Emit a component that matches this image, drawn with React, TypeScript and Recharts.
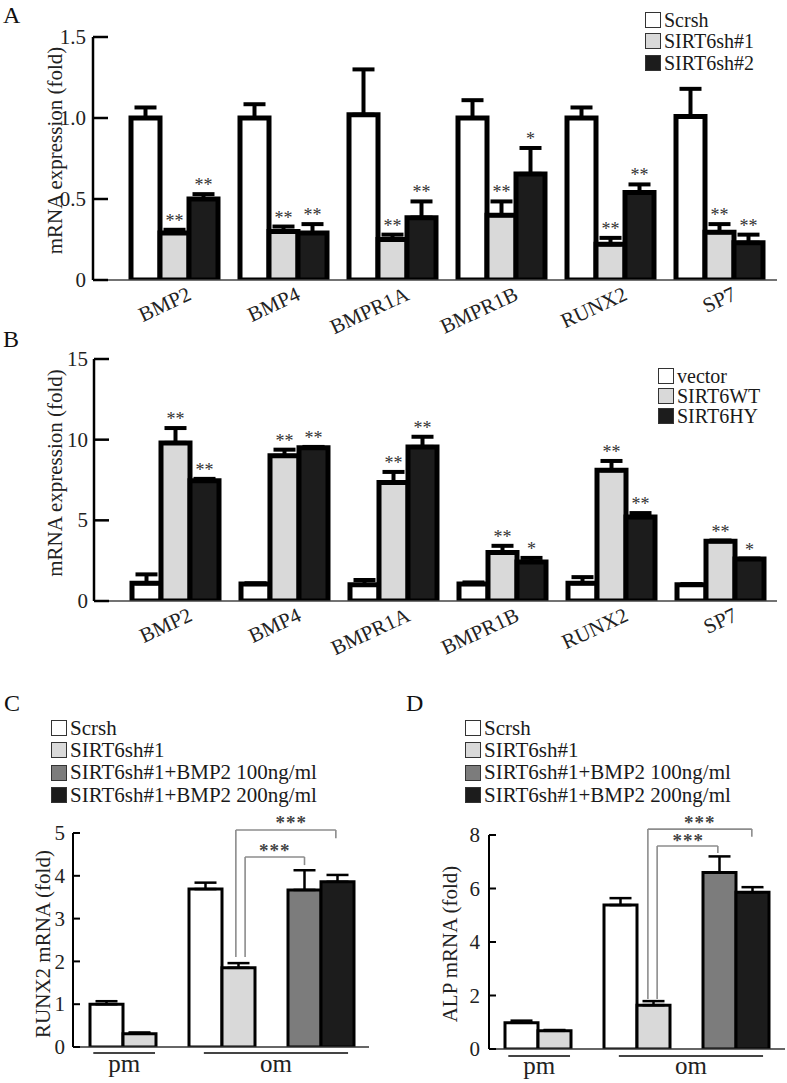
import React from 'react';
import { BarChart, Bar, XAxis, YAxis, ErrorBar, LabelList, Legend, ReferenceLine, ReferenceDot, Cell } from 'recharts';

const FONT = "'Liberation Serif', 'Times New Roman', serif";

// ---------- Panels A & B ----------
const genes = ['BMP2', 'BMP4', 'BMPR1A', 'BMPR1B', 'RUNX2', 'SP7'];

const seriesA = ['Scrsh', 'SIRT6sh#1', 'SIRT6sh#2'];
const aScrsh = [1.0, 1.0, 1.02, 1.0, 1.0, 1.01];
const aScrshErr = [0.065, 0.085, 0.28, 0.11, 0.065, 0.17];
const aSh1 = [0.29, 0.3, 0.25, 0.4, 0.22, 0.295];
const aSh1Err = [0.02, 0.03, 0.03, 0.085, 0.04, 0.05];
const aSh2 = [0.5, 0.29, 0.385, 0.655, 0.54, 0.23];
const aSh2Err = [0.03, 0.055, 0.1, 0.16, 0.05, 0.05];
const aSig1 = ['**', '**', '**', '**', '**', '**'];
const aSig2 = ['**', '**', '**', '*', '**', '**'];
const aTicks = [0, 0.5, 1.0, 1.5];

const seriesB = ['vector', 'SIRT6WT', 'SIRT6HY'];
const bVector = [1.1, 1.05, 1.0, 1.05, 1.1, 1.0];
const bVectorErr = [0.55, 0.05, 0.3, 0.1, 0.38, 0.05];
const bWT = [9.8, 9.0, 7.35, 3.0, 8.1, 3.7];
const bWTErr = [0.92, 0.38, 0.65, 0.42, 0.58, 0.05];
const bHY = [7.45, 9.5, 9.55, 2.42, 5.2, 2.6];
const bHYErr = [0.12, 0.05, 0.63, 0.25, 0.25, 0.03];
const bSig1 = ['**', '**', '**', '**', '**', '**'];
const bSig2 = ['**', '**', '**', '*', '**', '*'];
const bTicks = [0, 5, 10, 15];

// ---------- Panels C & D ----------
const seriesCD = ['Scrsh', 'SIRT6sh#1', 'SIRT6sh#1+BMP2 100ng/ml', 'SIRT6sh#1+BMP2 200ng/ml'];
const slots = ['pm-Scrsh', 'pm-SIRT6sh#1', 'pm-gap', 'om-Scrsh', 'om-SIRT6sh#1', 'om-gap', 'om-BMP2-100', 'om-BMP2-200'];
const slotSeries = [0, 1, -1, 0, 1, -1, 2, 3];
const cRunx2 = [1.0, 0.31, null, 3.69, 1.85, null, 3.67, 3.86];
const cRunx2Err = [0.07, 0.03, null, 0.15, 0.11, null, 0.46, 0.16];
const dAlp = [0.98, 0.68, null, 5.38, 1.64, null, 6.6, 5.86];
const dAlpErr = [0.08, 0.03, null, 0.26, 0.15, null, 0.6, 0.19];
const groupLabels = ['pm', 'om'];
const groupSpans = [[0.1, 1.97], [3.45, 7.82]];
const cTicks = [0, 1, 2, 3, 4, 5];
const dTicks = [0, 2, 4, 6, 8];

type Bracket = { from: number; to: number; base: number; top: number; end: number; label: string; labelX: number; labelY: number };
const cBrackets: Bracket[] = [
  { from: 4.7, to: 6.5, base: 2.1, top: 4.44, end: 4.25, label: '***', labelX: 5.6, labelY: 4.65 },
  { from: 4.42, to: 7.45, base: 2.1, top: 5.07, end: 4.88, label: '***', labelX: 6.1, labelY: 5.3 },
];
const dBrackets: Bracket[] = [
  { from: 4.61, to: 6.45, base: 1.87, top: 7.59, end: 7.33, label: '***', labelX: 5.55, labelY: 7.89 },
  { from: 4.33, to: 7.48, base: 1.87, top: 8.22, end: 7.93, label: '***', labelX: 5.9, labelY: 8.56 },
];

// ---------- styles ----------
const colors3 = ['#ffffff', '#d9d9d9', '#1c1c1c'];
const colorsCD = ['#ffffff', '#d9d9d9', '#7c7c7c', '#1c1c1c'];

// ---------- tables ----------
const dataA = genes.map((g, i) => ({
  gene: g,
  s0: aScrsh[i], e0: [0, aScrshErr[i]],
  s1: aSh1[i], e1: [0, aSh1Err[i]],
  s2: aSh2[i], e2: [0, aSh2Err[i]],
}));
const dataB = genes.map((g, i) => ({
  gene: g,
  s0: bVector[i], e0: [0, bVectorErr[i]],
  s1: bWT[i], e1: [0, bWTErr[i]],
  s2: bHY[i], e2: [0, bHYErr[i]],
}));
const dataC = slots.map((s, i) => ({ slot: s, pos: i, v: cRunx2[i], e: cRunx2Err[i] == null ? null : [0, cRunx2Err[i]] }));
const dataD = slots.map((s, i) => ({ slot: s, pos: i, v: dAlp[i], e: dAlpErr[i] == null ? null : [0, dAlpErr[i]] }));
const groupCenters = groupSpans.map(([a, b]) => (a + b) / 2);

// ---------- helpers ----------
function GeneTick(props: any) {
  const { x, y, payload } = props;
  const px = x + 18;
  const py = y + 19;
  return (
    <text x={px} y={py} textAnchor="end" transform={`rotate(-25, ${px}, ${py})`} fontFamily={FONT} fontSize={21} fill="#222">
      {payload.value}
    </text>
  );
}

function YTick(props: any) {
  const { x, y, payload, fmt } = props;
  const label = fmt ? fmt(payload.value) : String(payload.value);
  return (
    <text x={x} y={y} dy="0.34em" textAnchor="end" fontFamily={FONT} fontSize={21} fill="#222">
      {label}
    </text>
  );
}

function GroupTick(props: any) {
  const { x, y, index } = props;
  return (
    <text x={x} y={y + 25} textAnchor="middle" fontFamily={FONT} fontSize={25} fill="#222">
      {groupLabels[index]}
    </text>
  );
}

function YTitle(props: any) {
  const { viewBox, text, cx, dy } = props;
  const vb = viewBox || { x: 0, y: 0, width: 0, height: 0 };
  const x = vb.x + cx;
  const y = vb.y + vb.height / 2 + dy;
  return (
    <text x={x} y={y} transform={`rotate(-90, ${x}, ${y})`} textAnchor="middle" dominantBaseline="central" fontFamily={FONT} fontSize={21} fill="#222">
      {text}
    </text>
  );
}

function makeSig(vals: number[], errs: number[], sigs: string[]) {
  return (props: any) => {
    const vb = props.viewBox || {};
    const x = Number(props.x ?? vb.x);
    const y = Number(props.y ?? vb.y);
    const w = Number(props.width ?? vb.width);
    const h = Number(props.height ?? vb.height);
    const i = props.index;
    const v = vals[i];
    const s = sigs[i];
    if (!s || !v || !isFinite(x) || !isFinite(y)) return null;
    const capY = y - errs[i] * (Math.abs(h) / v);
    return (
      <text x={x + w / 2} y={capY - 3} textAnchor="middle" fontFamily={FONT} fontSize={18} fill="#333">
        {s}
      </text>
    );
  };
}

function StarLabel(props: any) {
  const vb = props.viewBox || {};
  const x = Number(vb.x ?? props.x) + Number(vb.width ?? 0) / 2;
  const y = Number(vb.y ?? props.y) + Number(vb.height ?? 0) / 2;
  return (
    <text x={x} y={y + 9} textAnchor="middle" fontFamily={FONT} fontSize={19} fontWeight="bold" letterSpacing={1} fill="#444">
      {props.value}
    </text>
  );
}

function makeLegend(names: string[], colors: string[], rowH: number, fs: number) {
  return () => (
    <div style={{ fontFamily: FONT, fontSize: fs, color: '#1a1a1a' }}>
      {names.map((n, i) => (
        <div key={n} style={{ display: 'flex', alignItems: 'center', height: rowH, whiteSpace: 'nowrap', lineHeight: 1 }}>
          <span style={{ width: 16, height: 16, boxSizing: 'border-box', border: '1.5px solid #333', background: colors[i], marginRight: 3, flex: '0 0 auto' }} />
          <span>{n}</span>
        </div>
      ))}
    </div>
  );
}

const fmtA = (v: number) => (v === 0 ? '0' : v.toFixed(1));
const fmtB = (v: number) => String(v);

function GenePanel(p: {
  data: any[]; series: string[]; ticks: number[]; max: number; fmt: (v: number) => string;
  s1: [number[], number[], string[]]; s2: [number[], number[], string[]];
  height: number; top: number; bottom: number; axisX: number; padLeft: number; padRight: number;
  legendLeft: number; legendTop: number; legendRow: number; legendFont: number; titleDy: number; tickMargin: number;
}) {
  return (
    <BarChart width={787} height={p.height} data={p.data} margin={{ top: p.top, right: 10, bottom: 0, left: 0 }} barGap={0} barCategoryGap={11}>
      <XAxis dataKey="gene" padding={{ left: p.padLeft, right: p.padRight }} height={p.height - p.bottom} interval={0} tickSize={0} tickMargin={0} tickLine={false}
        axisLine={{ stroke: '#444', strokeWidth: 1.6 }} tick={<GeneTick />} />
      <YAxis width={p.axisX} domain={[0, p.max]} ticks={p.ticks} allowDataOverflow tickSize={-15} tickMargin={p.tickMargin}
        axisLine={{ stroke: '#000', strokeWidth: 2.5 }} tickLine={{ stroke: '#000', strokeWidth: 2.5 }} tick={<YTick fmt={p.fmt} />}
        label={<YTitle text="mRNA expression (fold)" cx={55} dy={p.titleDy} />} />
      <Legend layout="horizontal" verticalAlign="middle" align="center" wrapperStyle={{ top: p.legendTop, left: p.legendLeft, width: 'auto' }}
        content={makeLegend(p.series, colors3, p.legendRow, p.legendFont)} />
      {p.series.map((s, k) => (
        <Bar key={s} dataKey={`s${k}`} name={s} fill={colors3[k]} stroke="#000" strokeWidth={5} isAnimationActive={false}>
          <ErrorBar dataKey={`e${k}`} width={11} stroke="#000" strokeWidth={4} direction="y" />
          {k === 1 ? <LabelList dataKey="s1" content={makeSig(p.s1[0], p.s1[1], p.s1[2])} /> : null}
          {k === 2 ? <LabelList dataKey="s2" content={makeSig(p.s2[0], p.s2[1], p.s2[2])} /> : null}
        </Bar>
      ))}
    </BarChart>
  );
}

function CDPanel(p: {
  data: any[]; ticks: number[]; max: number; title: string; width: number; axisX: number; top: number; bottom: number;
  padL: number; padR: number; list: Bracket[]; underY: number; legendLeft: number; tickMargin: number; titleCx: number; titleDy: number;
}) {
  const H = 443;
  return (
    <BarChart width={p.width} height={H} data={p.data} margin={{ top: p.top, right: p.width - p.axisX - 296, bottom: 0, left: 0 }} barGap={0} barCategoryGap={0}>
      <XAxis
        xAxisId="num"
        type="number"
        dataKey="pos"
        domain={[0, slots.length]}
        allowDataOverflow
        ticks={groupCenters}
        interval={0}
        padding={{ left: p.padL, right: p.padR }}
        height={H - p.bottom}
        tickSize={0}
        tickMargin={0}
        tickLine={false}
        axisLine={{ stroke: '#333', strokeWidth: 1.5 }}
        tick={<GroupTick />}
      />
      <XAxis xAxisId="cat" dataKey="slot" padding={{ left: p.padL, right: p.padR }} height={0} hide />
      <YAxis
        width={p.axisX}
        domain={[0, p.max]}
        ticks={p.ticks}
        allowDataOverflow
        tickSize={-7}
        tickMargin={p.tickMargin}
        axisLine={{ stroke: '#000', strokeWidth: 2 }}
        tickLine={{ stroke: '#000', strokeWidth: 2 }}
        tick={<YTick />}
        label={<YTitle text={p.title} cx={p.titleCx} dy={p.titleDy} />}
      />
      <Legend layout="horizontal" verticalAlign="middle" align="center" wrapperStyle={{ top: 77, left: p.legendLeft, width: 'auto' }}
        content={makeLegend(seriesCD, colorsCD, 22.3, 21)} />
      <Bar xAxisId="cat" dataKey="v" stroke="#000" strokeWidth={3} isAnimationActive={false}>
        {p.data.map((_, i) => (
          <Cell key={i} fill={slotSeries[i] >= 0 ? colorsCD[slotSeries[i]] : 'none'} />
        ))}
        <ErrorBar dataKey="e" width={11} stroke="#000" strokeWidth={2.5} direction="y" />
      </Bar>
      {groupSpans.map(([a, b], i) => (
        <ReferenceLine key={`u${i}`} xAxisId="num" ifOverflow="visible" stroke="#444" strokeWidth={2}
          segment={[{ x: a, y: p.underY }, { x: b, y: p.underY }]} />
      ))}
      {p.list.flatMap((b, i) => [
        <ReferenceLine key={`l${i}`} xAxisId="num" ifOverflow="visible" stroke="#8c8c8c" strokeWidth={1.6}
          segment={[{ x: b.from, y: b.base }, { x: b.from, y: b.top }]} />,
        <ReferenceLine key={`t${i}`} xAxisId="num" ifOverflow="visible" stroke="#8c8c8c" strokeWidth={1.6}
          segment={[{ x: b.from, y: b.top }, { x: b.to, y: b.top }]} />,
        <ReferenceLine key={`r${i}`} xAxisId="num" ifOverflow="visible" stroke="#8c8c8c" strokeWidth={1.6}
          segment={[{ x: b.to, y: b.top }, { x: b.to, y: b.end }]} />,
        <ReferenceDot key={`s${i}`} xAxisId="num" ifOverflow="visible" x={b.labelX} y={b.labelY} r={0} fill="none" stroke="none"
          label={<StarLabel value={b.label} />} />,
      ])}
    </BarChart>
  );
}

export default function App() {
  return (
    <div style={{ position: 'absolute', left: 0, top: 0, width: 787, height: 1083, background: '#fff', overflow: 'hidden' }}>
      <div style={{ position: 'absolute', left: 0, top: 0 }}>
        <GenePanel data={dataA} series={seriesA} ticks={aTicks} max={1.5} fmt={fmtA}
          s1={[aSh1, aSh1Err, aSig1]} s2={[aSh2, aSh2Err, aSig2]}
          height={345} top={37} bottom={280} axisX={93} padLeft={27} padRight={3}
          legendLeft={645} legendTop={9} legendRow={21.5} legendFont={20} titleDy={-8} tickMargin={22} />
      </div>
      <div style={{ position: 'absolute', left: 0, top: 330 }}>
        <GenePanel data={dataB} series={seriesB} ticks={bTicks} max={15} fmt={fmtB}
          s1={[bWT, bWTErr, bSig1]} s2={[bHY, bHYErr, bSig2]}
          height={340} top={29} bottom={271} axisX={94} padLeft={27} padRight={2}
          legendLeft={658} legendTop={36} legendRow={20} legendFont={20} titleDy={-7} tickMargin={21} />
      </div>
      <div style={{ position: 'absolute', left: 0, top: 640 }}>
        <CDPanel data={dataC} ticks={cTicks} max={5} title="RUNX2 mRNA (fold)" width={390} axisX={73} top={193} bottom={407}
          padL={17} padR={15} list={cBrackets} underY={-0.14} legendLeft={51} tickMargin={15} titleCx={43} titleDy={4} />
      </div>
      <div style={{ position: 'absolute', left: 390, top: 640 }}>
        <CDPanel data={dataD} ticks={dTicks} max={8} title="ALP mRNA (fold)" width={397} axisX={99} top={195} bottom={409}
          padL={16} padR={16} list={dBrackets} underY={-0.26} legendLeft={75} tickMargin={16} titleCx={60} titleDy={2} />
      </div>
      <svg width={787} height={1083} style={{ position: 'absolute', left: 0, top: 0, pointerEvents: 'none' }}>
        <text x={3} y={23} fontFamily={FONT} fontSize={24} fill="#111">A</text>
        <text x={3} y={347} fontFamily={FONT} fontSize={24} fill="#111">B</text>
        <text x={4} y={711} fontFamily={FONT} fontSize={24} fill="#111">C</text>
        <text x={406} y={711} fontFamily={FONT} fontSize={24} fill="#111">D</text>
      </svg>
    </div>
  );
}
